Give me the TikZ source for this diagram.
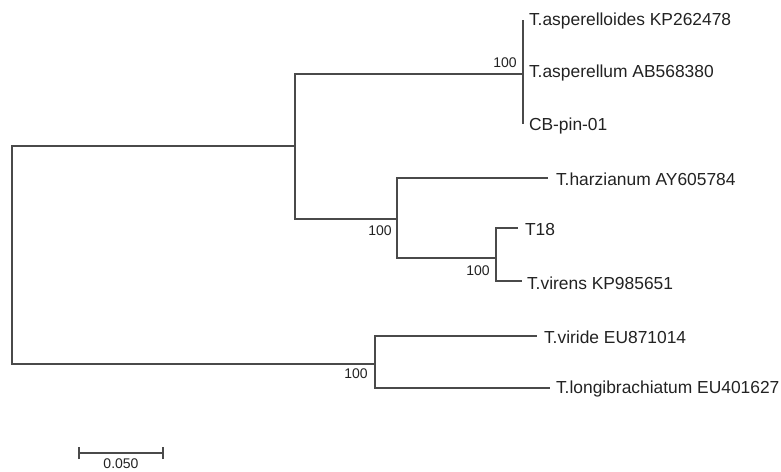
\documentclass[tikz,border=0pt]{standalone}
\usepackage{fontspec}
\setmainfont{Liberation Sans}
\definecolor{branch}{HTML}{4A4A4A}
\definecolor{txt}{HTML}{222222}
\begin{document}
\begin{tikzpicture}[x=1pt,y=-1pt,
  edge/.style={draw=branch,line width=1.1pt},
  leaf/.style={anchor=west,inner xsep=0pt,inner ysep=1pt,outer xsep=7pt,text=txt,font=\fontsize{17.4}{17.4}\selectfont},
  boot/.style={text=txt,inner sep=0pt,font=\fontsize{14}{14}\selectfont},
  scalelbl/.style={text=txt,inner sep=0pt,font=\fontsize{14}{14}\selectfont}]
\useasboundingbox (0,0) rectangle (781,471);
% internal nodes
\coordinate (R) at (12,255);
\coordinate (A) at (295,146);
\coordinate (A1) at (523,74);
\coordinate (B) at (397,219);
\coordinate (C) at (496,258);
\coordinate (D) at (375,364);
% leaves
\node[leaf,outer xsep=6pt] (l1) at (523,21) {T.asperelloides KP262478};
\node[leaf,outer xsep=6pt] (l2) at (523,73) {T.asperellum AB568380};
\node[leaf,outer xsep=6pt] (l3) at (523,126) {CB-pin-01};
\node[leaf,outer xsep=8pt] (l4) at (548,179) {T.harzianum AY605784};
\node[leaf] (l5) at (518,230) {T18};
\node[leaf,outer xsep=5pt] (l6) at (522,283) {T.virens KP985651};
\node[leaf] (l7) at (537,337) {T.viride EU871014};
\node[leaf,outer xsep=6pt] (l8) at (550,389) {T.longibrachiatum EU401627};
% branches
\draw[edge] (R) |- (A);
\draw[edge] (R) |- (D);
\draw[edge] (A) |- (A1);
\draw[edge] (A) |- (B);
\draw[edge] (A1) |- ([yshift=1pt]l1.west);
\draw[edge] (A1) |- ([yshift=1pt]l2.west);
\draw[edge] (A1) |- ([yshift=2pt]l3.west);
\draw[edge] (B) |- ([yshift=1pt]l4.west);
\draw[edge] (B) |- (C);
\draw[edge] (C) |- ([yshift=2pt]l5.west);
\draw[edge] (C) |- ([yshift=2pt]l6.west);
\draw[edge] (D) |- ([yshift=1pt]l7.west);
\draw[edge] (D) |- ([yshift=1pt]l8.west);
% bootstrap values
\node[boot] (b1) at (505,63) {100};
\node[boot] (b2) at (380,231) {100};
\node[boot] (b3) at (478,271) {100};
\node[boot] (b4) at (356,374) {100};
% scale bar
\coordinate (s1) at (79,453);
\coordinate (s2) at (163,453);
\draw[edge] (s1) -- (s2);
\draw[edge] ([yshift=-6pt]s1) -- ([yshift=6pt]s1);
\draw[edge] ([yshift=-6pt]s2) -- ([yshift=6pt]s2);
\node[scalelbl] (sl) at (121,464) {0.050};
\end{tikzpicture}
\end{document}
